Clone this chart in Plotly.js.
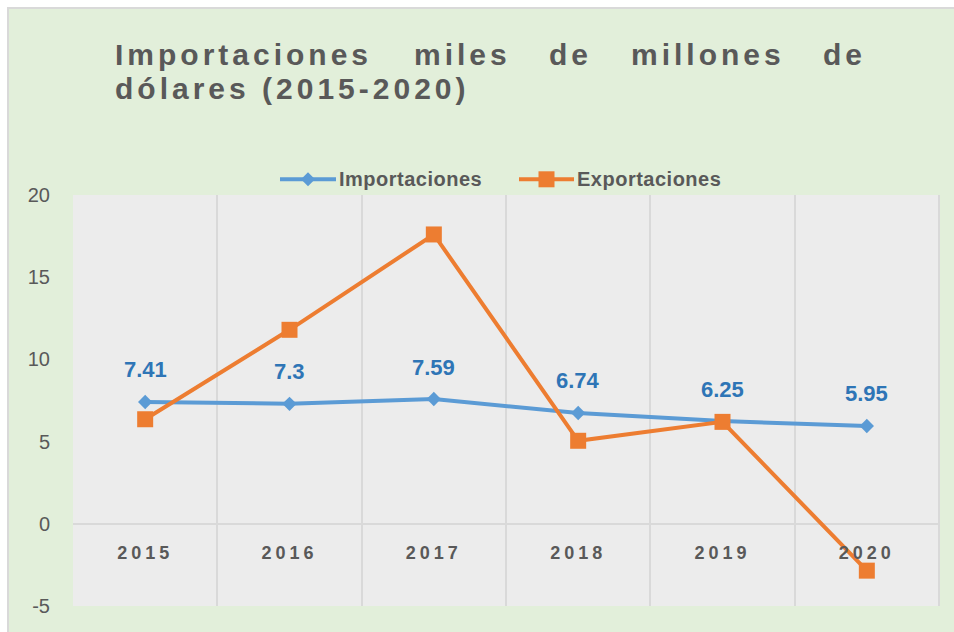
<!DOCTYPE html>
<html>
<head>
<meta charset="utf-8">
<script src="https://cdn.plot.ly/plotly-3.0.1.min.js"></script>
<style>
  html, body { margin: 0; padding: 0; background: #ffffff; }
  #frame { position: absolute; left: 7px; top: 7px; width: 947px; height: 625px;
           border-left: 2px solid #d9d9d9; border-top: 2px solid #d9d9d9; background: #e2efda; }
  #chart { width: 945px; height: 623px; }
  .xtick text { letter-spacing: 4px; }
</style>
</head>
<body>
<div id="frame"><div id="chart"></div></div>
<script>
// ---- data ----
const years = ["2015", "2016", "2017", "2018", "2019", "2020"];
const importaciones = [7.41, 7.3, 7.59, 6.74, 6.25, 5.95];
const exportaciones = [6.36, 11.8, 17.6, 5.05, 6.2, -2.85];
const importLabels = ["7.41", "7.3", "7.59", "6.74", "6.25", "5.95"];
const yTickVals = [-5, 0, 5, 10, 15, 20];
const yTickText = ["-5", "0", "5", "10", "15", "20"];
const titleLine1 = ["Importaciones", "miles", "de", "millones", "de"];
const titleLine2 = "dólares (2015-2020)";
const seriesNames = ["Importaciones", "Exportaciones"];

// ---- styling ----
const BLUE = "#5b9bd5", ORANGE = "#ed7d31", LABEL_BLUE = "#2e75b6", GREY_TEXT = "#595959";
const FONT = "Liberation Sans, Arial, sans-serif";

const traces = [
  {
    x: years, y: importaciones, name: seriesNames[0], type: "scatter", mode: "lines+markers",
    line: { color: BLUE, width: 4 },
    marker: { symbol: "diamond", size: 11, color: BLUE }
  },
  {
    x: years, y: exportaciones, name: seriesNames[1], type: "scatter", mode: "lines+markers",
    line: { color: ORANGE, width: 4 },
    marker: { symbol: "square", size: 16, color: ORANGE }
  }
];

// pixel -> paper helpers (layout only)
const PL = 73, PW = 866, PB = 605.7, PH = 411;
const px = (v) => (v - PL) / PW;
const py = (v) => (PB - v) / PH;

const annotations = [];
const line1X = [112.6, 412, 547, 628.7, 821];
titleLine1.forEach((w, i) => {
  annotations.push({
    xref: "paper", yref: "paper", x: px(line1X[i]), y: py(54.3), xanchor: "left", yanchor: "middle",
    align: "left", showarrow: false, text: w, name: "title",
    font: { family: FONT, size: 30, color: GREY_TEXT, weight: "bold" }
  });
});
annotations.push({
  xref: "paper", yref: "paper", x: px(112.6), y: py(87.7), xanchor: "left", yanchor: "middle",
  align: "left", showarrow: false, text: titleLine2, name: "title",
  font: { family: FONT, size: 30, color: GREY_TEXT, weight: "bold" }
});

// manual legend
const legendItems = [
  { name: seriesNames[0], color: BLUE, x0: 280, x1: 336, tx: 337, marker: "M-7,0L0,7L7,0L0,-7Z" },
  { name: seriesNames[1], color: ORANGE, x0: 519, x1: 574, tx: 575, marker: "M-8,-8H8V8H-8Z" }
];
const LEG_Y = 179;
const shapes = [
  { type: "line", xref: "paper", yref: "paper", x0: 1, x1: 1, y0: 0, y1: 1,
    line: { color: "#d9d9d9", width: 2 }, layer: "below" }
];
legendItems.forEach((it) => {
  shapes.push({ type: "line", xref: "paper", yref: "paper", x0: px(it.x0), x1: px(it.x1),
    y0: py(LEG_Y), y1: py(LEG_Y), line: { color: it.color, width: 4 } });
  shapes.push({ type: "path", xref: "paper", yref: "paper", xsizemode: "pixel", ysizemode: "pixel",
    xanchor: px((it.x0 + it.x1) / 2), yanchor: py(LEG_Y), path: it.marker,
    fillcolor: it.color, line: { width: 0 } });
  annotations.push({
    xref: "paper", yref: "paper", x: px(it.tx), y: py(LEG_Y), xanchor: "left", yanchor: "middle",
    align: "left", showarrow: false, text: it.name, name: "legend",
    font: { family: FONT, size: 20, color: GREY_TEXT, weight: "bold" }
  });
});

// data labels
years.forEach((yr, i) => {
  annotations.push({
    x: i, y: importaciones[i], xref: "x", yref: "y", showarrow: false,
    text: importLabels[i], yshift: 32, yanchor: "middle",
    font: { family: FONT, size: 22, color: LABEL_BLUE, weight: "bold" }
  });
});

const layout = {
  width: 945, height: 623,
  margin: { l: 64, r: 15, t: 186, b: 26 },
  paper_bgcolor: "#e2efda",
  plot_bgcolor: "#ececec",
  showlegend: false,
  xaxis: {
    type: "category", range: [-0.5, 5.5], anchor: "free", position: 0.2,
    tickson: "boundaries", ticks: "", showgrid: true, gridcolor: "#d9d9d9", gridwidth: 2,
    showline: false, zeroline: false, ticklabelstandoff: 16,
    tickfont: { family: FONT, size: 18, color: GREY_TEXT, weight: "bold" },
    fixedrange: true
  },
  yaxis: {
    range: [-5, 20], tickmode: "array", tickvals: yTickVals, ticktext: yTickText, showgrid: false,
    zeroline: true, zerolinecolor: "#d9d9d9", zerolinewidth: 2,
    showline: false, ticks: "", ticklabelstandoff: 22,
    tickfont: { family: FONT, size: 20, color: GREY_TEXT },
    fixedrange: true
  },
  shapes: shapes,
  annotations: annotations
};

Plotly.newPlot("chart", traces, layout, { displayModeBar: false, staticPlot: true }).then(() => {
  const anns = document.querySelectorAll(".annotation");
  anns.forEach((g, i) => {
    const t = g.querySelector("text.annotation-text");
    if (!t) return;
    if (i < titleLine1.length + 1) t.style.letterSpacing = "4px";
    else if (i < titleLine1.length + 1 + legendItems.length) t.style.letterSpacing = "0.5px";
  });
});
</script>
</body>
</html>
